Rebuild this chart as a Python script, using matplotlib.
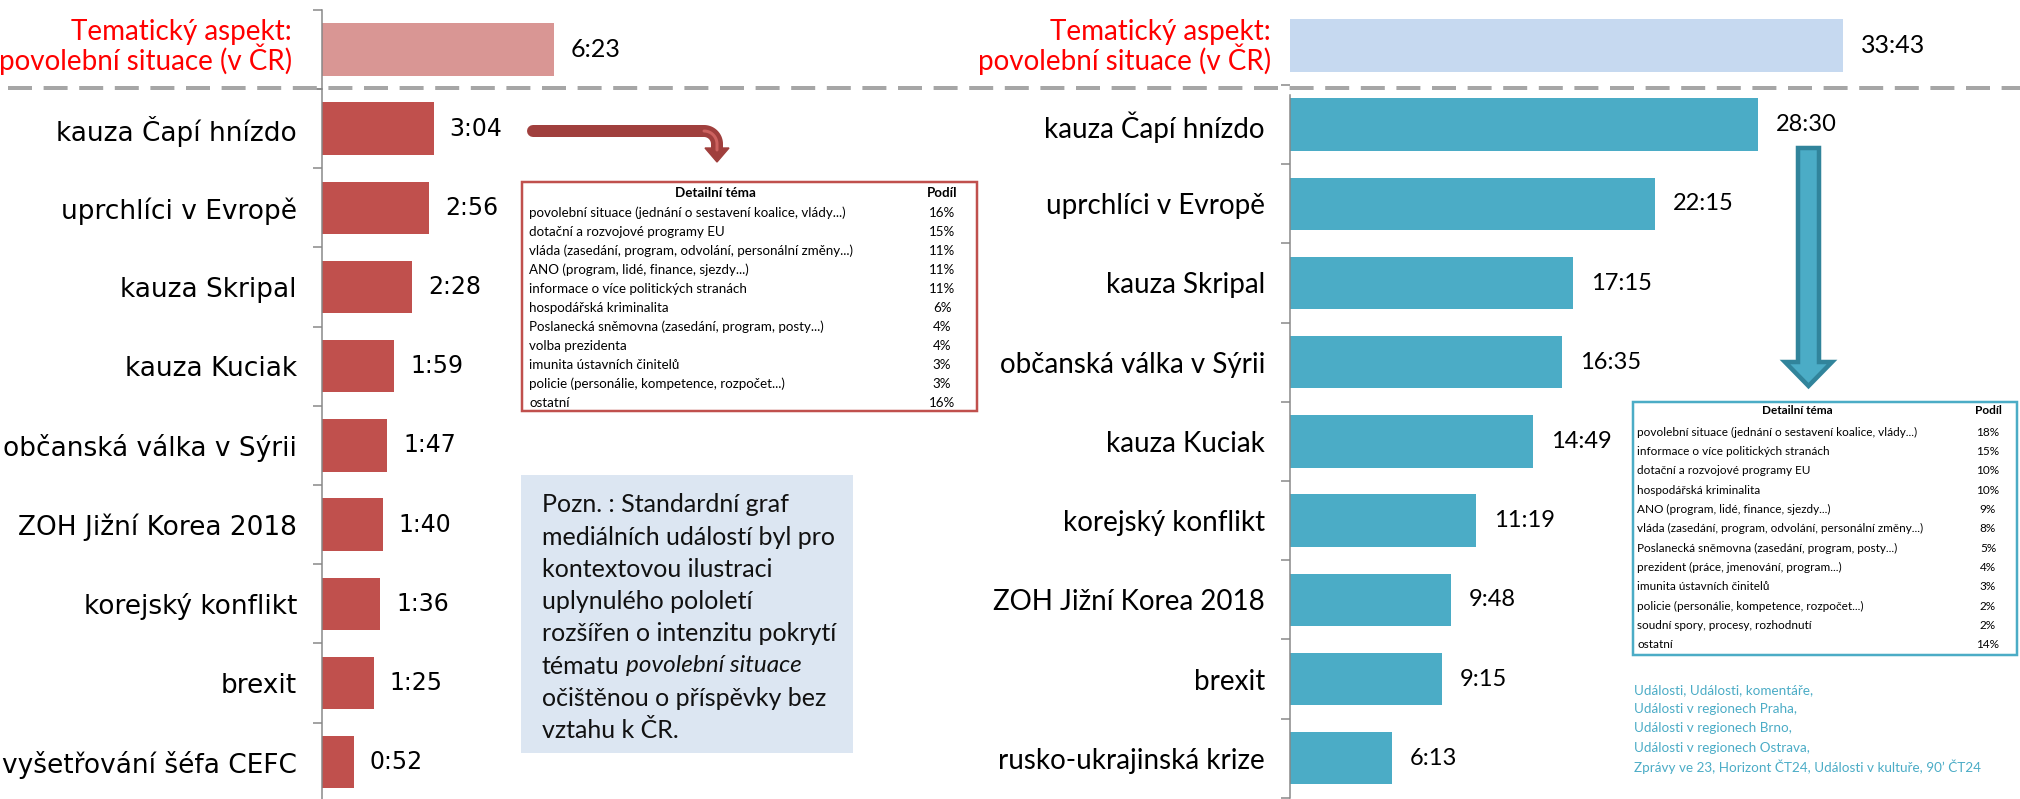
import numpy as np
import matplotlib
matplotlib.use("Agg")
import matplotlib.pyplot as plt
from matplotlib.patches import Polygon, Rectangle
from matplotlib.lines import Line2D

W, H = 2020, 799

# ---------------- data ----------------
title_lines = ["Tematický aspekt:", "povolební situace (v ČR)"]

left_top_value = "6:23"
left_categories = ["kauza Čapí hnízdo", "uprchlíci v Evropě", "kauza Skripal",
                   "kauza Kuciak", "občanská válka v Sýrii", "ZOH Jižní Korea 2018",
                   "korejský konflikt", "brexit", "vyšetřování šéfa CEFC"]
left_values = ["3:04", "2:56", "2:28", "1:59", "1:47", "1:40", "1:36", "1:25", "0:52"]

right_top_value = "33:43"
right_categories = ["kauza Čapí hnízdo", "uprchlíci v Evropě", "kauza Skripal",
                    "občanská válka v Sýrii", "kauza Kuciak", "korejský konflikt",
                    "ZOH Jižní Korea 2018", "brexit", "rusko-ukrajinská krize"]
right_values = ["28:30", "22:15", "17:15", "16:35", "14:49", "11:19", "9:48", "9:15", "6:13"]

table_header = ["Detailní téma", "Podíl"]
left_table_topics = ["povolební situace (jednání o sestavení koalice, vlády...)",
                     "dotační a rozvojové programy EU",
                     "vláda (zasedání, program, odvolání, personální změny...)",
                     "ANO (program, lidé, finance, sjezdy...)",
                     "informace o více politických stranách",
                     "hospodářská kriminalita",
                     "Poslanecká sněmovna (zasedání, program, posty...)",
                     "volba prezidenta",
                     "imunita ústavních činitelů",
                     "policie (personálie, kompetence, rozpočet...)",
                     "ostatní"]
left_table_shares = ["16%", "15%", "11%", "11%", "11%", "6%", "4%", "4%", "3%", "3%", "16%"]

right_table_topics = ["povolební situace (jednání o sestavení koalice, vlády...)",
                      "informace o více politických stranách",
                      "dotační a rozvojové programy EU",
                      "hospodářská kriminalita",
                      "ANO (program, lidé, finance, sjezdy...)",
                      "vláda (zasedání, program, odvolání, personální změny...)",
                      "Poslanecká sněmovna (zasedání, program, posty...)",
                      "prezident (práce, jmenování, program...)",
                      "imunita ústavních činitelů",
                      "policie (personálie, kompetence, rozpočet...)",
                      "soudní spory, procesy, rozhodnutí",
                      "ostatní"]
right_table_shares = ["18%", "15%", "10%", "10%", "9%", "8%", "5%", "4%", "3%", "2%", "2%", "14%"]

note_lines = ["Pozn. : Standardní graf", "mediálních událostí byl pro",
              "kontextovou ilustraci", "uplynulého pololetí",
              "rozšířen o intenzitu pokrytí", "tématu", "očištěnou o příspěvky bez",
              "vztahu k ČR."]
note_italic = "povolební situace"

footnote_lines = ["Události, Události, komentáře,",
                  "Události v regionech Praha,",
                  "Události v regionech Brno,",
                  "Události v regionech Ostrava,",
                  "Zprávy ve 23, Horizont ČT24, Události v kultuře, 90’ ČT24"]

# ---------------- style ----------------
RED = "#C0504D"
RED_LIGHT = "#D99694"
BLUE = "#4BACC6"
BLUE_LIGHT = "#C6D9F0"
GREY = "#868686"
TITLE_RED = "#FF0000"
PX = 72.0 / 100.0  # points per pixel


def secs(s):
    m, s2 = s.split(":")
    return int(m) * 60 + int(s2)


fig = plt.figure(figsize=(W / 100, H / 100), dpi=100)


def add_ax(x0, y0, x1, y1):
    return fig.add_axes([x0 / W, 1 - y1 / H, (x1 - x0) / W, (y1 - y0) / H])


def style_axis(ax, spine=True):
    for s in ["top", "right", "bottom"]:
        ax.spines[s].set_visible(False)
    ax.spines["left"].set_visible(spine)
    ax.spines["left"].set_color(GREY)
    ax.spines["left"].set_linewidth(1.5 * PX)
    ax.xaxis.set_visible(False)
    ax.patch.set_alpha(0)


# ---------- left panel ----------
L_X0, L_SCALE = 322, 0.607   # px, px per second
R_X0, R_SCALE = 1290, 0.2735

# left top
axlt = add_ax(L_X0, 10, L_X0 + 600, 89)
axlt.barh([0], [secs(left_top_value)], height=0.67, color=RED_LIGHT)
axlt.set_xlim(0, 600 / L_SCALE)
axlt.set_ylim(0.5, -0.5)
style_axis(axlt)
axlt.set_yticks([-0.5, 0.5], ["", ""])
axlt.tick_params(axis="y", length=9 * PX, width=1.5 * PX, color=GREY)
axlt.annotate(left_top_value, xy=(secs(left_top_value), 0), xytext=(16 * PX, 0),
              textcoords="offset points", va="center", ha="left",
              fontsize=18, family="Lato", color="black")

# left main
n = len(left_categories)
axl = add_ax(L_X0, 89, L_X0 + 600, 89 + 79.2 * n)
lv = [secs(v) for v in left_values]
axl.barh(range(n), lv, height=0.66, color=RED)
axl.set_xlim(0, 600 / L_SCALE)
axl.set_ylim(n - 0.5, -0.5)
style_axis(axl)
axl.set_yticks(np.arange(n + 1) - 0.5, [""] * (n + 1))
axl.tick_params(axis="y", which="major", length=9 * PX, width=1.5 * PX, color=GREY)
axl.set_yticks(range(n), left_categories, minor=True)
axl.tick_params(axis="y", which="minor", length=0, pad=25 * PX, labelsize=19)
for lab in axl.get_yticklabels(minor=True):
    lab.set_family("DejaVu Sans")
for i, (v, s) in enumerate(zip(lv, left_values)):
    axl.annotate(s, xy=(v, i), xytext=(16 * PX, 0), textcoords="offset points",
                 va="center", ha="left", fontsize=17, family="DejaVu Sans")

# ---------- right panel ----------
axrt = add_ax(R_X0, 6, R_X0 + 700, 85)
axrt.barh([0], [secs(right_top_value)], height=0.67, color=BLUE_LIGHT)
axrt.set_xlim(0, 700 / R_SCALE)
axrt.set_ylim(0.5, -0.5)
style_axis(axrt, spine=False)
axrt.set_yticks([])
axrt.annotate(right_top_value, xy=(secs(right_top_value), 0), xytext=(18 * PX, 0),
              textcoords="offset points", va="center", ha="left",
              fontsize=18, family="Lato")

m = len(right_categories)
axr = add_ax(R_X0, 85, R_X0 + 700, 85 + 79.2 * m)
rv = [secs(v) for v in right_values]
axr.barh(range(m), rv, height=0.66, color=BLUE)
axr.set_xlim(0, 700 / R_SCALE)
axr.set_ylim(m - 0.5, -0.5)
style_axis(axr)
axr.spines["left"].set_bounds(m - 0.5, -0.38)
axr.set_yticks(np.arange(m + 1) - 0.5, [""] * (m + 1))
axr.tick_params(axis="y", which="major", length=9 * PX, width=1.5 * PX, color=GREY)
axr.set_yticks(range(m), right_categories, minor=True)
axr.tick_params(axis="y", which="minor", length=0, pad=25 * PX, labelsize=20)
for lab in axr.get_yticklabels(minor=True):
    lab.set_family("Lato")
for i, (v, s) in enumerate(zip(rv, right_values)):
    axr.annotate(s, xy=(v, i), xytext=(18 * PX, 0), textcoords="offset points",
                 va="center", ha="left", fontsize=17, family="Lato")

# ---------- overlay (pixel coordinates) ----------
ov = fig.add_axes([0, 0, 1, 1])
ov.set_xlim(0, W)
ov.set_ylim(H, 0)
ov.axis("off")

# red titles
for xr in (292, 1271):
    ov.text(xr, 40, title_lines[0], ha="right", va="baseline", fontsize=20,
            family="Lato", color=TITLE_RED)
    ov.text(xr, 70, title_lines[1], ha="right", va="baseline", fontsize=20,
            family="Lato", color=TITLE_RED)

# dashed separator
ov.add_line(Line2D([8, W], [88, 88], color="#A6A6A6", lw=4 * PX,
                   dashes=(6, 2.9)))


def draw_table(x0, y0, x1, y1, edge, header_y, row_y0, row_dy, text_x,
               c1, c2, topics, shares, fs):
    ov.add_patch(Rectangle((x0, y0), x1 - x0, y1 - y0, facecolor="white",
                           edgecolor=edge, lw=2.5 * PX))
    ov.text(c1, header_y, table_header[0], ha="center", va="center",
            fontsize=fs, family="Lato", weight="bold")
    ov.text(c2, header_y, table_header[1], ha="center", va="center",
            fontsize=fs, family="Lato", weight="bold")
    for k, (t, s) in enumerate(zip(topics, shares)):
        y = row_y0 + k * row_dy
        ov.text(text_x, y, t, ha="left", va="center", fontsize=fs, family="Lato")
        ov.text(c2, y, s, ha="center", va="center", fontsize=fs, family="Lato")


draw_table(522, 182, 977, 411, RED, 193, 213, 19.0, 529, 715, 942,
           left_table_topics, left_table_shares, 9.6)
draw_table(1633, 402, 2017, 655, BLUE, 411, 432, 19.36, 1637, 1797, 1988,
           right_table_topics, right_table_shares, 8.5)

# note box
ov.add_patch(Rectangle((521, 475), 332, 278, facecolor="#DCE6F2", edgecolor="none"))
note_texts = []
for k, line in enumerate(note_lines):
    t = ov.text(542, 505 + 32.2 * k, line, ha="left", va="center", fontsize=18,
                family="Lato", color="#111111")
    note_texts.append(t)
fig.canvas.draw()
bb = note_texts[5].get_window_extent()
x_end = ov.transData.inverted().transform((bb.x1, bb.y0))[0]
ov.text(x_end + 6, 505 + 32.2 * 5, note_italic, ha="left", va="center",
        fontsize=17.5, family="Lato", style="italic", color="#111111")

# footnote
for k, line in enumerate(footnote_lines):
    ov.text(1634, 690 + 19.2 * k, line, ha="left", va="center", fontsize=9.7,
            family="Lato", color=BLUE)

# red bent arrow
r = 13
th = np.linspace(-np.pi / 2, 0, 20)
px = np.concatenate([[533], 704 + r * np.cos(th), [717]])
py = np.concatenate([[131], 144 + r * np.sin(th), [150]])
ov.add_line(Line2D(px, py, color="#A03F3D", lw=12 * PX, solid_capstyle="round",
                   solid_joinstyle="round"))
ov.add_line(Line2D(px[1:], py[1:], color="#CD625F", lw=3 * PX,
                   solid_capstyle="round", solid_joinstyle="round"))
ov.add_patch(Polygon([(705, 148), (729, 148), (717, 162)], closed=True,
                     facecolor="#A03F3D", edgecolor="#A03F3D", lw=1))

# blue down arrow
ov.add_patch(Polygon([(1798, 148), (1819, 148), (1819, 362), (1832, 362),
                      (1808.5, 386), (1785, 362), (1798, 362)], closed=True,
                     facecolor=BLUE, edgecolor="#31849B", lw=4.5 * PX,
                     joinstyle="miter"))

fig.savefig("out.png", dpi=100)
